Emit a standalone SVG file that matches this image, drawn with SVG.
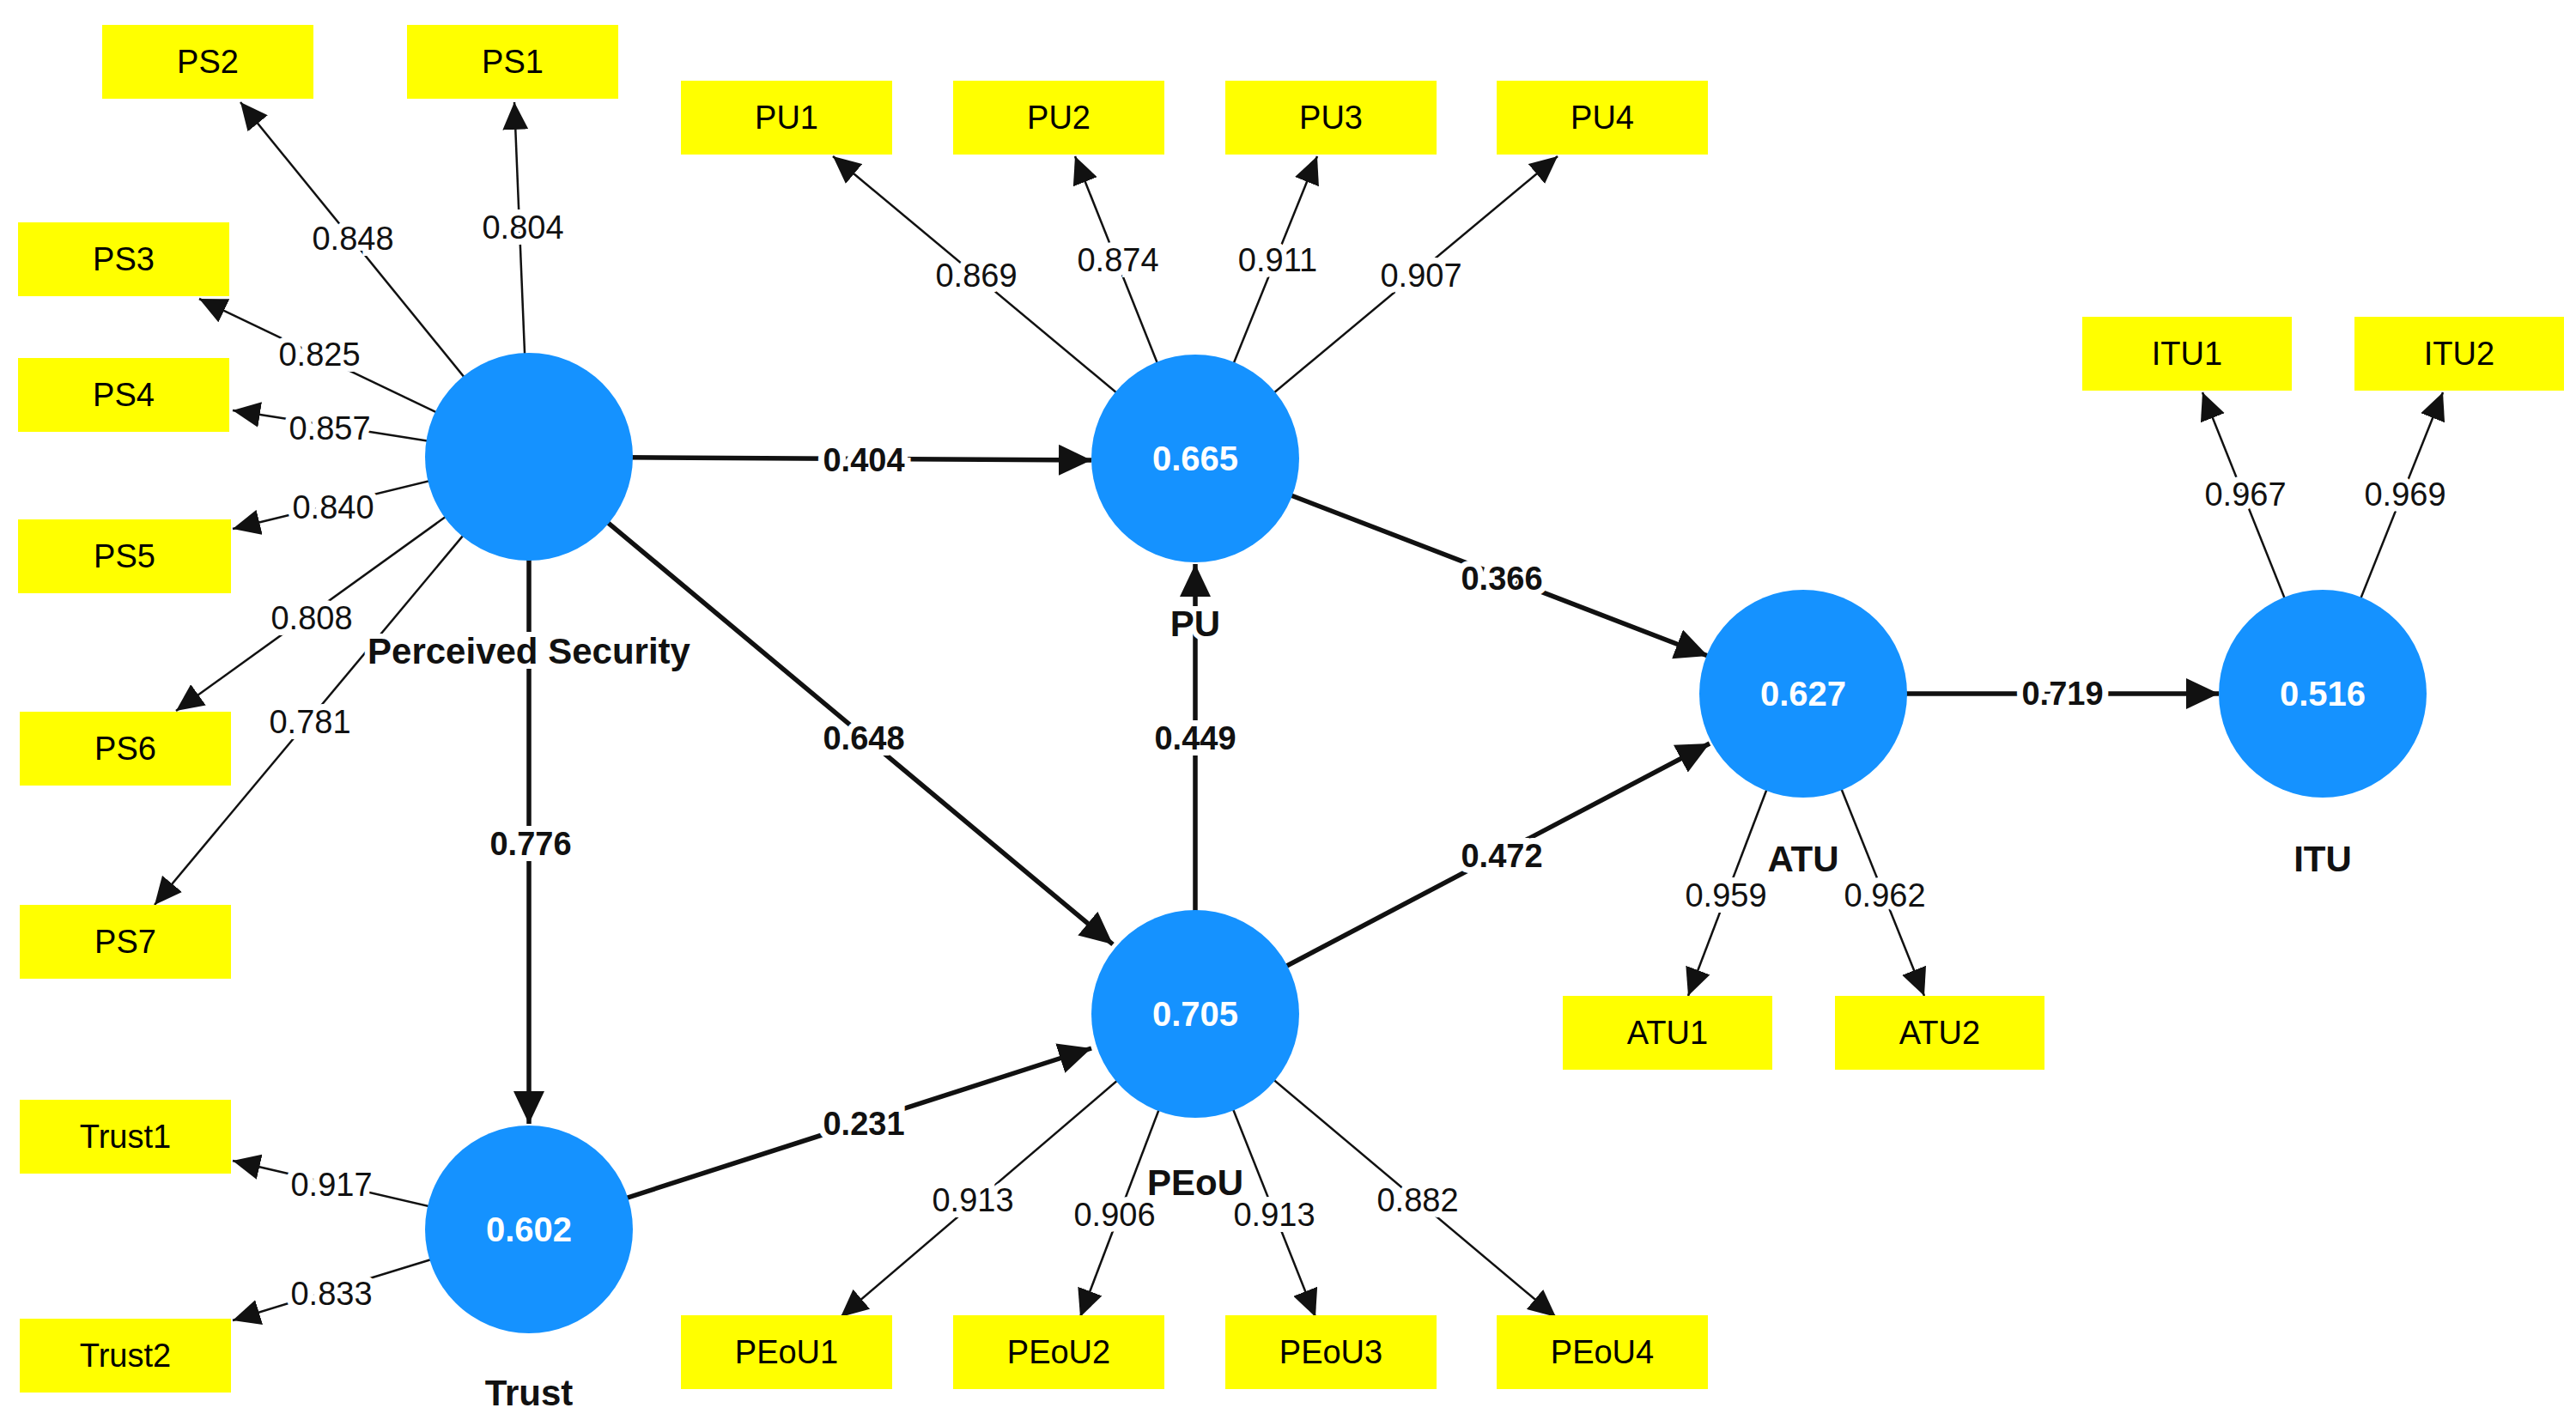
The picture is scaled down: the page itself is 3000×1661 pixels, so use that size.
<svg xmlns="http://www.w3.org/2000/svg" width="3000" height="1661" viewBox="0 0 3000 1661">
<style>
.box{fill:#FFFF00}
.bt{font-family:"Liberation Sans",Arial,sans-serif;font-size:38px;fill:#000;text-anchor:middle;dominant-baseline:central}
.c{fill:#1592FF}
.ct{font-family:"Liberation Sans",Arial,sans-serif;font-size:40px;font-weight:bold;fill:#fff;text-anchor:middle;dominant-baseline:central}
.nl{font-family:"Liberation Sans",Arial,sans-serif;font-size:42px;font-weight:bold;fill:#111;text-anchor:middle;dominant-baseline:central;stroke:#fff;stroke-width:12px;paint-order:stroke}
.thin{stroke:#111;stroke-width:2.5;fill:none;marker-end:url(#a1)}
.thick{stroke:#111;stroke-width:5.5;fill:none;marker-end:url(#a2)}
.lt{font-family:"Liberation Sans",Arial,sans-serif;font-size:38px;fill:#111;text-anchor:middle;dominant-baseline:central;stroke:#fff;stroke-width:14px;paint-order:stroke}
.pt{font-family:"Liberation Sans",Arial,sans-serif;font-size:38px;font-weight:bold;fill:#111;text-anchor:middle;dominant-baseline:central;stroke:#fff;stroke-width:14px;paint-order:stroke}
</style>
<defs>
<marker id="a1" markerUnits="userSpaceOnUse" markerWidth="34" markerHeight="30" refX="32" refY="15" orient="auto"><path d="M0,0 L32,15 L0,30 Z" fill="#111"/></marker>
<marker id="a2" markerUnits="userSpaceOnUse" markerWidth="40" markerHeight="36" refX="38" refY="18" orient="auto"><path d="M0,0 L38,18 L0,36 Z" fill="#111"/></marker>
</defs>
<rect width="3000" height="1661" fill="#fff"/>
<g id="connectors">
<line class="thin" x1="616" y1="532" x2="280" y2="119"/>
<line class="thin" x1="616" y1="532" x2="599" y2="119"/>
<line class="thin" x1="616" y1="532" x2="232" y2="348"/>
<line class="thin" x1="616" y1="532" x2="271" y2="478"/>
<line class="thin" x1="616" y1="532" x2="271" y2="616"/>
<line class="thin" x1="616" y1="532" x2="205" y2="828"/>
<line class="thin" x1="616" y1="532" x2="180" y2="1054"/>
<line class="thin" x1="1392" y1="534" x2="970" y2="182"/>
<line class="thin" x1="1392" y1="534" x2="1252" y2="182"/>
<line class="thin" x1="1392" y1="534" x2="1534" y2="182"/>
<line class="thin" x1="1392" y1="534" x2="1814" y2="182"/>
<line class="thin" x1="1392" y1="1181" x2="979" y2="1534"/>
<line class="thin" x1="1392" y1="1181" x2="1258" y2="1534"/>
<line class="thin" x1="1392" y1="1181" x2="1532" y2="1534"/>
<line class="thin" x1="1392" y1="1181" x2="1812" y2="1534"/>
<line class="thin" x1="2100" y1="808" x2="1966" y2="1160"/>
<line class="thin" x1="2100" y1="808" x2="2241" y2="1160"/>
<line class="thin" x1="2705" y1="808" x2="2565" y2="457"/>
<line class="thin" x1="2705" y1="808" x2="2845" y2="457"/>
<line class="thin" x1="616" y1="1432" x2="271" y2="1352"/>
<line class="thin" x1="616" y1="1432" x2="271" y2="1538"/>
<line class="thick" x1="616" y1="532" x2="1271" y2="536"/>
<line class="thick" x1="616" y1="532" x2="1296" y2="1100"/>
<line class="thick" x1="616" y1="532" x2="616" y2="1309"/>
<line class="thick" x1="1392" y1="1181" x2="1392" y2="657"/>
<line class="thick" x1="1392" y1="534" x2="1989" y2="764"/>
<line class="thick" x1="1392" y1="1181" x2="1991" y2="866"/>
<line class="thick" x1="2100" y1="808" x2="2584" y2="808"/>
<line class="thick" x1="616" y1="1432" x2="1271" y2="1221"/>
<text class="lt" x="411" y="278">0.848</text>
<text class="lt" x="609" y="265">0.804</text>
<text class="lt" x="372" y="413">0.825</text>
<text class="lt" x="384" y="499">0.857</text>
<text class="lt" x="388" y="591">0.840</text>
<text class="lt" x="363" y="720">0.808</text>
<text class="lt" x="361" y="841">0.781</text>
<text class="lt" x="1137" y="321">0.869</text>
<text class="lt" x="1302" y="303">0.874</text>
<text class="lt" x="1488" y="303">0.911</text>
<text class="lt" x="1655" y="321">0.907</text>
<text class="lt" x="1133" y="1398">0.913</text>
<text class="lt" x="1298" y="1415">0.906</text>
<text class="lt" x="1484" y="1415">0.913</text>
<text class="lt" x="1651" y="1398">0.882</text>
<text class="lt" x="2010" y="1043">0.959</text>
<text class="lt" x="2195" y="1043">0.962</text>
<text class="lt" x="2615" y="576">0.967</text>
<text class="lt" x="2801" y="576">0.969</text>
<text class="lt" x="386" y="1380">0.917</text>
<text class="lt" x="386" y="1507">0.833</text>
<text class="pt" x="1006" y="536">0.404</text>
<text class="pt" x="1006" y="860">0.648</text>
<text class="pt" x="618" y="983">0.776</text>
<text class="pt" x="1392" y="860">0.449</text>
<text class="pt" x="1749" y="674">0.366</text>
<text class="pt" x="1749" y="997">0.472</text>
<text class="pt" x="2402" y="808">0.719</text>
<text class="pt" x="1006" y="1309">0.231</text>
</g>
<g id="PS"><circle class="c" cx="616" cy="532" r="121"/><text class="nl" x="616" y="758">Perceived Security</text></g>
<g id="PU"><circle class="c" cx="1392" cy="534" r="121"/><text class="ct" x="1392" y="534">0.665</text><text class="nl" x="1392" y="726">PU</text></g>
<g id="ATU"><circle class="c" cx="2100" cy="808" r="121"/><text class="ct" x="2100" y="808">0.627</text><text class="nl" x="2100" y="1000">ATU</text></g>
<g id="ITU"><circle class="c" cx="2705" cy="808" r="121"/><text class="ct" x="2705" y="808">0.516</text><text class="nl" x="2705" y="1000">ITU</text></g>
<g id="PEoU"><circle class="c" cx="1392" cy="1181" r="121"/><text class="ct" x="1392" y="1181">0.705</text><text class="nl" x="1392" y="1377">PEoU</text></g>
<g id="Trust"><circle class="c" cx="616" cy="1432" r="121"/><text class="ct" x="616" y="1432">0.602</text><text class="nl" x="616" y="1622">Trust</text></g>
<g id="PS2"><rect class="box" x="119" y="29" width="246" height="86"/><text class="bt" x="242" y="72">PS2</text></g>
<g id="PS1"><rect class="box" x="474" y="29" width="246" height="86"/><text class="bt" x="597" y="72">PS1</text></g>
<g id="PU1"><rect class="box" x="793" y="94" width="246" height="86"/><text class="bt" x="916" y="137">PU1</text></g>
<g id="PU2"><rect class="box" x="1110" y="94" width="246" height="86"/><text class="bt" x="1233" y="137">PU2</text></g>
<g id="PU3"><rect class="box" x="1427" y="94" width="246" height="86"/><text class="bt" x="1550" y="137">PU3</text></g>
<g id="PU4"><rect class="box" x="1743" y="94" width="246" height="86"/><text class="bt" x="1866" y="137">PU4</text></g>
<g id="PS3"><rect class="box" x="21" y="259" width="246" height="86"/><text class="bt" x="144" y="302">PS3</text></g>
<g id="PS4"><rect class="box" x="21" y="417" width="246" height="86"/><text class="bt" x="144" y="460">PS4</text></g>
<g id="PS5"><rect class="box" x="21" y="605" width="248" height="86"/><text class="bt" x="145" y="648">PS5</text></g>
<g id="PS6"><rect class="box" x="23" y="829" width="246" height="86"/><text class="bt" x="146" y="872">PS6</text></g>
<g id="PS7"><rect class="box" x="23" y="1054" width="246" height="86"/><text class="bt" x="146" y="1097">PS7</text></g>
<g id="Trust1"><rect class="box" x="23" y="1281" width="246" height="86"/><text class="bt" x="146" y="1324">Trust1</text></g>
<g id="Trust2"><rect class="box" x="23" y="1536" width="246" height="86"/><text class="bt" x="146" y="1579">Trust2</text></g>
<g id="PEoU1"><rect class="box" x="793" y="1532" width="246" height="86"/><text class="bt" x="916" y="1575">PEoU1</text></g>
<g id="PEoU2"><rect class="box" x="1110" y="1532" width="246" height="86"/><text class="bt" x="1233" y="1575">PEoU2</text></g>
<g id="PEoU3"><rect class="box" x="1427" y="1532" width="246" height="86"/><text class="bt" x="1550" y="1575">PEoU3</text></g>
<g id="PEoU4"><rect class="box" x="1743" y="1532" width="246" height="86"/><text class="bt" x="1866" y="1575">PEoU4</text></g>
<g id="ATU1"><rect class="box" x="1820" y="1160" width="244" height="86"/><text class="bt" x="1942" y="1203">ATU1</text></g>
<g id="ATU2"><rect class="box" x="2137" y="1160" width="244" height="86"/><text class="bt" x="2259" y="1203">ATU2</text></g>
<g id="ITU1"><rect class="box" x="2425" y="369" width="244" height="86"/><text class="bt" x="2547" y="412">ITU1</text></g>
<g id="ITU2"><rect class="box" x="2742" y="369" width="244" height="86"/><text class="bt" x="2864" y="412">ITU2</text></g>
</svg>
